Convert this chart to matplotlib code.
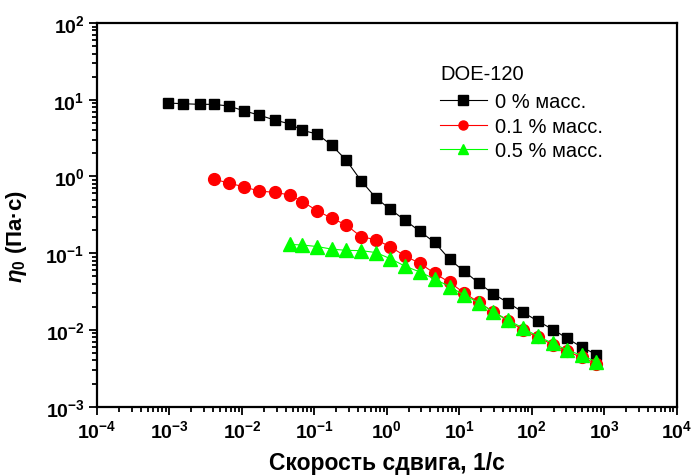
import math
import matplotlib
matplotlib.use("Agg")
import matplotlib.pyplot as plt
from matplotlib.ticker import LogLocator, FuncFormatter, NullFormatter

# ─── DATA ────────────────────────────────────────────────────────────────────
shear_rate = [0.00095, 0.00155, 0.00264, 0.00408, 0.00658, 0.0106, 0.0171,
              0.0284, 0.0466, 0.0682, 0.110, 0.174, 0.274, 0.441, 0.710,
              1.12, 1.80, 2.87, 4.58, 7.38, 11.6, 18.7, 29.5, 47.5, 76.6,
              122, 197, 310, 490, 780]

eta_0 = [9.06, 8.87, 8.71, 8.71, 8.28, 7.19, 6.32, 5.44, 4.82, 3.99, 3.57,
         2.54, 1.64, 0.88, 0.523, 0.372, 0.267, 0.192, 0.138, 0.0829, 0.0584,
         0.0407, 0.0295, 0.0225, 0.0169, 0.0130, 0.0101, 0.00774, 0.00596,
         0.00478]

# 0.1 % starts at the 4th shear rate
eta_01 = [0.925, 0.820, 0.734, 0.646, 0.621, 0.572, 0.471, 0.356, 0.285,
          0.234, 0.164, 0.150, 0.121, 0.0917, 0.0736, 0.0545, 0.0416, 0.0305,
          0.0228, 0.0172, 0.0131, 0.00993, 0.00798, 0.00640, 0.00525,
          0.00438, 0.00365]

# 0.5 % starts at the 9th shear rate
eta_05 = [0.130, 0.128, 0.122, 0.113, 0.109, 0.108, 0.102, 0.0847, 0.0675,
          0.0569, 0.0459, 0.0368, 0.0284, 0.0226, 0.0172, 0.0134, 0.0105,
          0.00823, 0.00667, 0.00546, 0.00466, 0.00384]

labels = ["0 % масс.", "0.1 % масс.", "0.5 % масс."]
legend_title = "DOE-120"

# ─── STYLE ────────────────────────────────────────────────────────────────────
plt.rcParams["font.family"] = ["Liberation Sans", "DejaVu Sans"]
plt.rcParams["mathtext.fontset"] = "custom"
plt.rcParams["mathtext.rm"] = "Liberation Sans:bold"
plt.rcParams["mathtext.bf"] = "Liberation Sans:bold"
plt.rcParams["mathtext.it"] = "Liberation Sans:italic:bold"

fig = plt.figure(figsize=(6.91, 4.77), dpi=100)
ax = fig.add_axes([0.1404, 0.1453, 0.8389, 0.8044])

ax.plot(shear_rate, eta_0, color="black", lw=0.8, marker="s", ms=7.5,
        mec="black", mfc="black", label=labels[0])
ax.plot(shear_rate[3:], eta_01, color="red", lw=0.8, marker="o", ms=8.5,
        mec="red", mfc="red", label=labels[1])
ax.plot(shear_rate[8:], eta_05, color="#00ff00", lw=0.8, marker="^", ms=9.5,
        mec="#00ff00", mfc="#00ff00", label=labels[2])

ax.set_xscale("log")
ax.set_yscale("log")
ax.set_xlim(1e-4, 1e4)
ax.set_ylim(1e-3, 1e2)

fmt = FuncFormatter(lambda v, p: r"$\mathbf{10^{%d}}$" % round(math.log10(v)))
for axis in (ax.xaxis, ax.yaxis):
    axis.set_major_locator(LogLocator(base=10, numticks=20))
    axis.set_minor_locator(LogLocator(base=10, subs=range(2, 10), numticks=20))
    axis.set_major_formatter(fmt)
    axis.set_minor_formatter(NullFormatter())

for s in ax.spines.values():
    s.set_linewidth(1.6)
ax.tick_params(which="both", direction="out", width=1.3, labelsize=14,
               top=False, right=False)
ax.tick_params(which="major", length=6, pad=3)
ax.tick_params(which="minor", length=3.5)

ax.set_xlabel("Скорость сдвига, 1/с", fontsize=16.5, fontweight="bold", labelpad=7)
ax.set_ylabel(r"$\eta_0$ (Па·с)", fontsize=16, fontweight="bold")
ax.yaxis.set_label_coords(-0.118, 0.445)

# legend title as separate text (bigger gap than the legend title allows)
ax.text(0.593, 0.868, legend_title, transform=ax.transAxes, fontsize=14.5,
        ha="left", va="center")
leg = ax.legend(loc="upper left", bbox_to_anchor=(0.592, 0.819),
                frameon=False, fontsize=14.5, borderpad=0, borderaxespad=0,
                handlelength=2.3, handletextpad=0.4, labelspacing=0.27)
for h in leg.legend_handles:
    h.set_markersize(6.5)

fig.savefig("out.png", dpi=100)
